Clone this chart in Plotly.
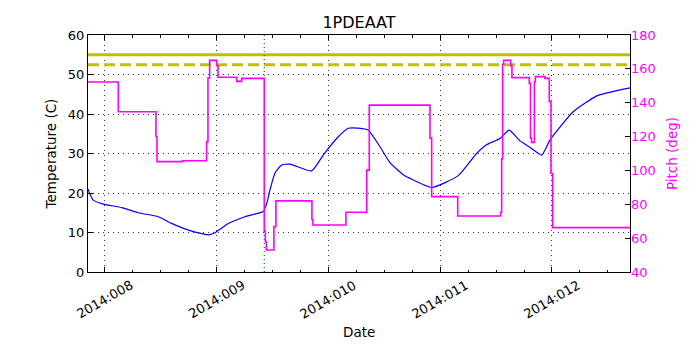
import pandas as pd
import plotly.graph_objects as go

# MSID temperature (day-of-year 2014, deg C)
temp_doy = [7.850, 7.859, 7.897, 7.987, 8.151, 8.300, 8.479, 8.598, 8.747, 8.926,
            8.986, 9.105, 9.254, 9.418, 9.450, 9.478, 9.522, 9.582, 9.657, 9.851,
            9.954, 10.074, 10.178, 10.267, 10.357, 10.462, 10.551, 10.670, 10.730,
            10.924, 11.162, 11.326, 11.415, 11.535, 11.618, 11.714, 11.803, 11.908,
            11.982, 12.188, 12.402, 12.608, 12.698]
temp_degc = [21.0, 20.3, 18.2, 17.2, 16.3, 15.0, 14.0, 12.3, 10.6, 9.4,
             9.95, 12.3, 14.0, 15.3, 17.5, 20.8, 25.0, 27.1, 27.3, 25.6,
             29.6, 33.8, 36.4, 36.4, 35.9, 31.7, 27.7, 24.6, 23.7,
             21.4, 24.4, 30.0, 32.2, 33.8, 35.9, 33.2, 31.6, 29.6,
             33.4, 40.5, 44.6, 46.1, 46.6]

# spacecraft pitch (step values, deg)
pitch_doy = [7.850, 8.121, 8.458, 8.467, 8.697, 8.911, 8.923, 8.938, 9.001, 9.013,
             9.180, 9.225, 9.427, 9.436, 9.445, 9.513, 9.531, 9.853, 9.862, 10.157,
             10.343, 10.366, 10.909, 10.924, 11.157, 11.541, 11.550, 11.559, 11.568,
             11.631, 11.642, 11.797, 11.808, 11.817, 11.843, 11.852, 11.937, 11.976,
             11.991, 12.006, 12.698]
pitch_deg = [152.2, 134.7, 120.0, 105.2, 105.7, 117.0, 154.6, 165.0, 161.8, 155.0,
             152.6, 154.4, 64.0, 58.0, 53.0, 66.8, 82.0, 71.0, 67.8, 75.3,
             100.2, 138.6, 119.0, 84.5, 73.1, 75.3, 107.0, 162.7, 165.0,
             161.9, 154.8, 151.5, 119.0, 116.6, 152.4, 155.4, 154.4, 140.6,
             98.3, 66.2, 66.2]

limit_yellow = 55.0
limit_planning = 52.5
load_start_doy = 9.427
x_range_doy = [7.850, 12.698]
date_ticks_doy = [8, 9, 10, 11, 12]
date_tick_labels = ["2014:008", "2014:009", "2014:010", "2014:011", "2014:012"]


def doy_to_time(doy):
    return pd.Timestamp("2014-01-01") + pd.to_timedelta([d - 1 for d in doy], unit="D")


x_range = doy_to_time(x_range_doy)
font = "DejaVu Sans, Liberation Sans, sans-serif"
grid_dash = "1px,4px"

fig = go.Figure()

fig.add_trace(go.Scatter(
    x=doy_to_time(temp_doy), y=temp_degc, mode="lines",
    line=dict(color="#0000ff", width=1.2, shape="spline", smoothing=0.5),
    name="1PDEAAT", showlegend=False,
))

# limit lines and load start marker
fig.add_trace(go.Scatter(
    x=x_range, y=[limit_yellow, limit_yellow], mode="lines",
    line=dict(color="#bfbf00", width=3), showlegend=False,
))
fig.add_trace(go.Scatter(
    x=x_range, y=[limit_planning, limit_planning], mode="lines",
    line=dict(color="#bfbf00", width=3, dash="11px,5px"), showlegend=False,
))
fig.add_trace(go.Scatter(
    x=doy_to_time([load_start_doy, load_start_doy]), y=[0, 60], mode="lines",
    line=dict(color="#008000", width=1.2, dash="1px,3px"), showlegend=False,
))

fig.add_trace(go.Scatter(
    x=doy_to_time(pitch_doy), y=pitch_deg, mode="lines", line_shape="hv",
    line=dict(color="#ff00ff", width=1.6), yaxis="y2", showlegend=False,
))

# rotated date labels centred on their ticks (matplotlib style)
for t, lab in zip(doy_to_time(date_ticks_doy), date_tick_labels):
    fig.add_annotation(x=t, xref="x", y=-0.118, yref="paper", text=lab,
                       textangle=-30, showarrow=False, xanchor="center",
                       yanchor="middle", font=dict(size=13))
fig.add_annotation(x=0.5, xref="paper", y=-0.253, yref="paper", text="Date",
                   showarrow=False, xanchor="center", yanchor="middle",
                   font=dict(size=13.5))

fig.update_layout(
    width=700, height=350,
    margin=dict(l=88, r=70, t=35, b=78),
    paper_bgcolor="white", plot_bgcolor="white",
    font=dict(family=font, size=13, color="black"),
    title=dict(text="1PDEAAT", x=0.5, xref="paper", xanchor="center",
               y=1 - 22 / 350, yref="container", yanchor="middle",
               font=dict(size=16)),
    xaxis=dict(
        type="date", range=list(x_range),
        tick0="2014-01-08", dtick=86400000, showticklabels=False,
        ticks="inside", ticklen=5, tickcolor="black",
        minor=dict(dtick=6 * 3600 * 1000, ticks="inside", ticklen=2.5, tickcolor="black"),
        showline=True, linecolor="black", linewidth=1, mirror="ticks",
        showgrid=True, gridcolor="#333333", gridwidth=1, griddash=grid_dash,
        zeroline=False,
    ),
    yaxis=dict(
        range=[0, 60], dtick=10,
        ticks="inside", ticklen=5, tickcolor="black",
        showline=True, linecolor="black", linewidth=1, mirror=True,
        showgrid=True, gridcolor="#333333", gridwidth=1, griddash=grid_dash,
        title=dict(text="Temperature (C)", standoff=8, font=dict(size=13.5)),
        zeroline=False,
    ),
    yaxis2=dict(
        overlaying="y", side="right", range=[40, 180], dtick=20,
        ticks="inside", ticklen=5, tickcolor="black",
        tickfont=dict(color="#ff00ff"),
        title=dict(text="Pitch (deg)", font=dict(color="#ff00ff", size=13.5), standoff=12),
        showgrid=False, zeroline=False,
    ),
)

# page body has a default margin; drop it so the figure sits at the window corner
fig.write_html("out.html", config={"displayModeBar": False},
               post_script="document.body.style.margin='0';")
